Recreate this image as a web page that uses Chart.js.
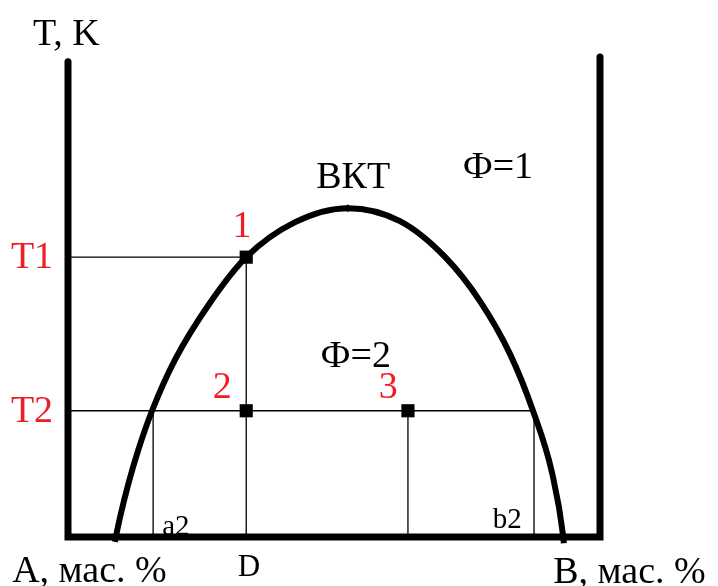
<!DOCTYPE html>
<html>
<head>
<meta charset="utf-8">
<title>Phase diagram</title>
<script src="https://cdn.jsdelivr.net/npm/chart.js@4/dist/chart.umd.min.js"></script>
<style>
  html, body { margin: 0; padding: 0; background: #fff; }
  #chart { display: block; }
</style>
</head>
<body>
<canvas id="chart" width="718" height="586"></canvas>
<script>
// composition (% mass, 0 = A, 100 = B) and temperature (arbitrary units, 0 = base line)
var curveX = [8.8, 9.8, 11.4, 13.2, 15.8, 20.1, 26.7, 33.5, 42.7, 52.6, 62.4, 70.9, 77.4, 83.1, 87.4, 91.0, 93.1, 93.2];
var curveT = [-1.0, 4.2, 11.3, 18.1, 26.3, 36.9, 48.8, 58.3, 65.6, 68.5, 65.8, 58.3, 49.2, 38.1, 26.3, 13.3, 0, -1.3];

var T1 = 58.3, T2 = 26.3;
var xD = 33.5, x3 = 63.9, xA2 = 16.0, xB2 = 87.6;
var xCrit = 52.6, tCrit = 68.5;

var pointX = [xD, xD, x3];
var pointT = [T1, T2, T2];

var RED = '#ee1c25';
var FONT = '"Liberation Serif", "Times New Roman", serif';

var PhaseChart = {

  labels: [
    {text: 'T, K', x: -6.6, y: 102.5, align: 'left', size: 38},
    {text: 'T1', x: -2.8, y: 56.0, align: 'right', size: 38, color: RED},
    {text: 'T2', x: -2.8, y: 24.0, align: 'right', size: 38, color: RED},
    {text: '1', x: 32.7, y: 62.5, align: 'center', size: 38, color: RED},
    {text: '2', x: 29.0, y: 29.0, align: 'center', size: 38, color: RED},
    {text: '3', x: 60.2, y: 29.0, align: 'center', size: 38, color: RED},
    {text: 'ВКТ', x: 53.6, y: 72.7, align: 'center', size: 38},
    {text: 'Ф=1', x: 80.8, y: 74.8, align: 'center', size: 38},
    {text: 'Ф=2', x: 54.1, y: 35.4, align: 'center', size: 38},
    {text: 'a2', x: 17.7, y: 0.4, align: 'left', size: 29},
    {text: 'b2', x: 85.3, y: 1.9, align: 'right', size: 29},
    {text: 'A, мас. %', x: -10.5, y: -9.4, align: 'left', size: 38},
    {text: 'D', x: 34.0, y: -8.1, align: 'center', size: 31},
    {text: 'B, мас. %', x: 91.2, y: -9.6, align: 'left', size: 38}
  ],

  toPoints: function (xs, ys) {
    return xs.map(function (x, i) { return {x: x, y: ys[i]}; });
  },

  thinLine: function (pts) {
    return {
      data: pts,
      showLine: true,
      borderColor: '#000',
      borderWidth: 1.3,
      pointRadius: 0,
      tension: 0,
      clip: false
    };
  },

  textPlugin: {
    id: 'phaseText',
    afterDatasetsDraw: function (chart) {
      var ctx = chart.ctx,
        sx = chart.scales.x,
        sy = chart.scales.y;

      ctx.save();
      ctx.textBaseline = 'alphabetic';
      PhaseChart.labels.forEach(function (l) {
        ctx.font = l.size + 'px ' + FONT;
        ctx.fillStyle = l.color || '#000';
        ctx.textAlign = l.align;
        ctx.fillText(l.text, sx.getPixelForValue(l.x), sy.getPixelForValue(l.y));
      });
      ctx.restore();
    }
  },

  setup: function () {
    var datasets = [
      // guide lines
      this.thinLine([{x: 0, y: T1}, {x: xD, y: T1}, {x: xD, y: 0}]),
      this.thinLine([{x: 0, y: T2}, {x: xB2, y: T2}]),
      this.thinLine([{x: xA2, y: T2}, {x: xA2, y: 0}]),
      this.thinLine([{x: x3, y: T2}, {x: x3, y: 0}]),
      this.thinLine([{x: xB2, y: T2}, {x: xB2, y: 0}]),
      // frame: T axis, composition axis, B side
      {
        data: [{x: 0, y: 99.0}, {x: 0, y: 0}, {x: 100, y: 0}, {x: 100, y: 100.0}],
        showLine: true,
        borderColor: '#000',
        borderWidth: 7,
        borderJoinStyle: 'miter',
        borderCapStyle: 'round',
        pointRadius: 0,
        tension: 0,
        clip: false
      },
      // binodal curve
      {
        data: this.toPoints(curveX, curveT),
        showLine: true,
        borderColor: '#000',
        borderWidth: 6,
        pointRadius: 0,
        cubicInterpolationMode: 'monotone',
        clip: false
      },
      // figurative points 1, 2, 3
      {
        data: this.toPoints(pointX, pointT),
        showLine: false,
        pointStyle: 'rect',
        pointRadius: 9.3,
        pointBorderWidth: 0,
        pointBackgroundColor: '#000',
        clip: false
      },
      // critical point
      {
        data: [{x: xCrit, y: tCrit}],
        showLine: false,
        pointStyle: 'rectRot',
        pointRadius: 4,
        pointBorderWidth: 0,
        pointBackgroundColor: '#000',
        clip: false
      }
    ];

    new Chart(document.getElementById('chart'), {
      type: 'scatter',
      data: {datasets: datasets},
      options: {
        responsive: false,
        animation: false,
        layout: {padding: {left: 68, right: 118, top: 57, bottom: 49}},
        plugins: {legend: {display: false}, tooltip: {enabled: false}},
        scales: {
          x: {type: 'linear', min: 0, max: 100, display: false},
          y: {type: 'linear', min: 0, max: 100, display: false}
        }
      },
      plugins: [this.textPlugin]
    });
  }
};

PhaseChart.setup();
</script>
</body>
</html>
